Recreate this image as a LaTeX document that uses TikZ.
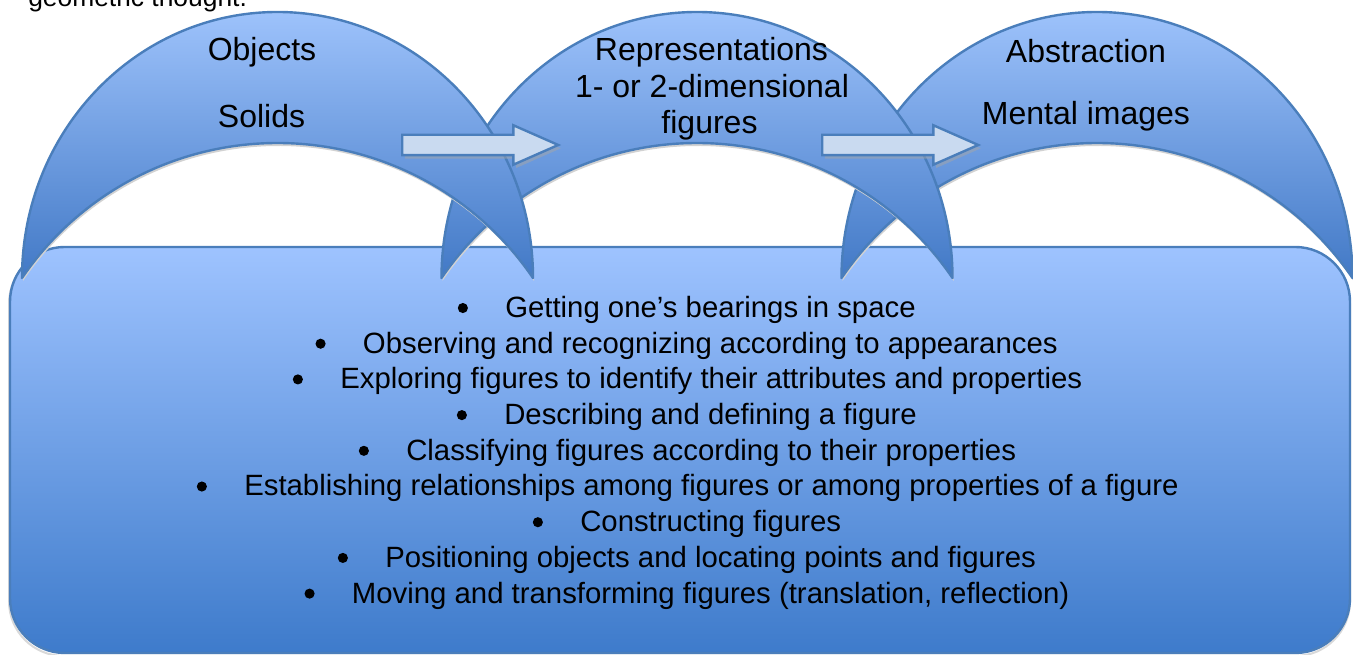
\documentclass[tikz,border=0pt]{standalone}
\usepackage{fontspec}
\setmainfont{Liberation Sans}
\usetikzlibrary{shapes.arrows,shadows}
\definecolor{archtop}{HTML}{9DC2FB}
\definecolor{archbot}{HTML}{4279C6}
\definecolor{boxtop}{HTML}{9EC3FF}
\definecolor{boxbot}{HTML}{3E7BCB}
\definecolor{edgeblue}{HTML}{4A7EBB}
\definecolor{arrfill}{HTML}{C9DAF0}
\begin{document}
\begin{tikzpicture}[x=0.75pt,y=0.75pt,
  archshape/.style={top color=archtop,bottom color=archbot,draw=edgeblue,line width=1.8pt,line join=round},
  archshadow/.style={fill=gray!35},
  boxshape/.style={top color=boxtop,bottom color=boxbot,draw=edgeblue,line width=1.8pt,rounded corners=41pt},
  blockarrow/.style={single arrow,draw=edgeblue,fill=arrfill,line width=1.8pt,
    minimum height=117pt,minimum width=27.75pt,single arrow head extend=7.125pt,
    single arrow tip angle=47.5,single arrow head indent=0pt,inner xsep=0pt,inner ysep=6.75pt,
    anchor=tail,drop shadow={shadow xshift=2pt,shadow yshift=-2.5pt,fill=gray!70,opacity=0.5}},
  lbl/.style={anchor=base,inner sep=0pt,font=\fontsize{24}{28}\selectfont},
  item/.style={anchor=base west,inner sep=0pt,font=\fontsize{22}{26}\selectfont}]
\useasboundingbox (0,0) rectangle (1353,655);
\clip (0,0) rectangle (1353,655);
% cropped caption line at the top
\node[anchor=base west,inner sep=0pt,font=\fontsize{19.8}{24}\selectfont] (cap) at (28,648) {geometric thought.};
% bottom rounded box
\draw[gray!30,line width=1.5pt,rounded corners=41pt] (9,-1) rectangle (1350,406);
\path[boxshape] (10,2) rectangle (1350,408);
% arches (right one at the bottom, left one on top)
\foreach \cx in {1097,697,277.5}{
  \path[archshadow,shift={(1,-3)}] (\cx-255.5,377) arc[start angle=180,end angle=0,x radius=255.5,y radius=266]
    arc[start angle=34.3,end angle=145.7,radius=309.3] -- cycle;
  \path[archshape] (\cx-255.5,377) arc[start angle=180,end angle=0,x radius=255.5,y radius=266]
    arc[start angle=34.3,end angle=145.7,radius=309.3] -- cycle;
}
% block arrows
\node[blockarrow] (ar1) at (401,510) {};
\node[blockarrow] (ar2) at (821,510) {};
% arch labels
\node[lbl] (obj) at (262,594) {Objects};
\node[lbl] (sol) at (261.5,527) {Solids};
\node[lbl] (rep) at (711.5,594) {Representations};
\node[lbl] (dim) at (712,557) {1- or 2-dimensional};
\node[lbl] (fig) at (709.5,521) {figures};
\node[lbl] (abs) at (1086,592) {Abstraction};
\node[lbl] (men) at (1086,530) {Mental images};
% bullet list
\newcommand{\bul}{\llap{\tikz[baseline=0pt,x=1pt,y=1pt]\fill (0,7.1) circle[radius=3.8];\hspace{28pt}}}
\node[item] (i1) at (505,337.5) {\bul Getting one’s bearings in space};
\node[item] (i2) at (362.7,301.8) {\bul Observing and recognizing according to appearances};
\node[item] (i3) at (340,266.1) {\bul Exploring figures to identify their attributes and properties};
\node[item] (i4) at (504,230.4) {\bul Describing and defining a figure};
\node[item] (i5) at (406,194.7) {\bul Classifying figures according to their properties};
\node[item] (i6) at (244,159) {\bul Establishing relationships among figures or among properties of a figure};
\node[item] (i7) at (580,123.3) {\bul Constructing figures};
\node[item] (i8) at (385,87.6) {\bul Positioning objects and locating points and figures};
\node[item] (i9) at (351.7,51.9) {\bul Moving and transforming figures (translation, reflection)};
\end{tikzpicture}
\end{document}
